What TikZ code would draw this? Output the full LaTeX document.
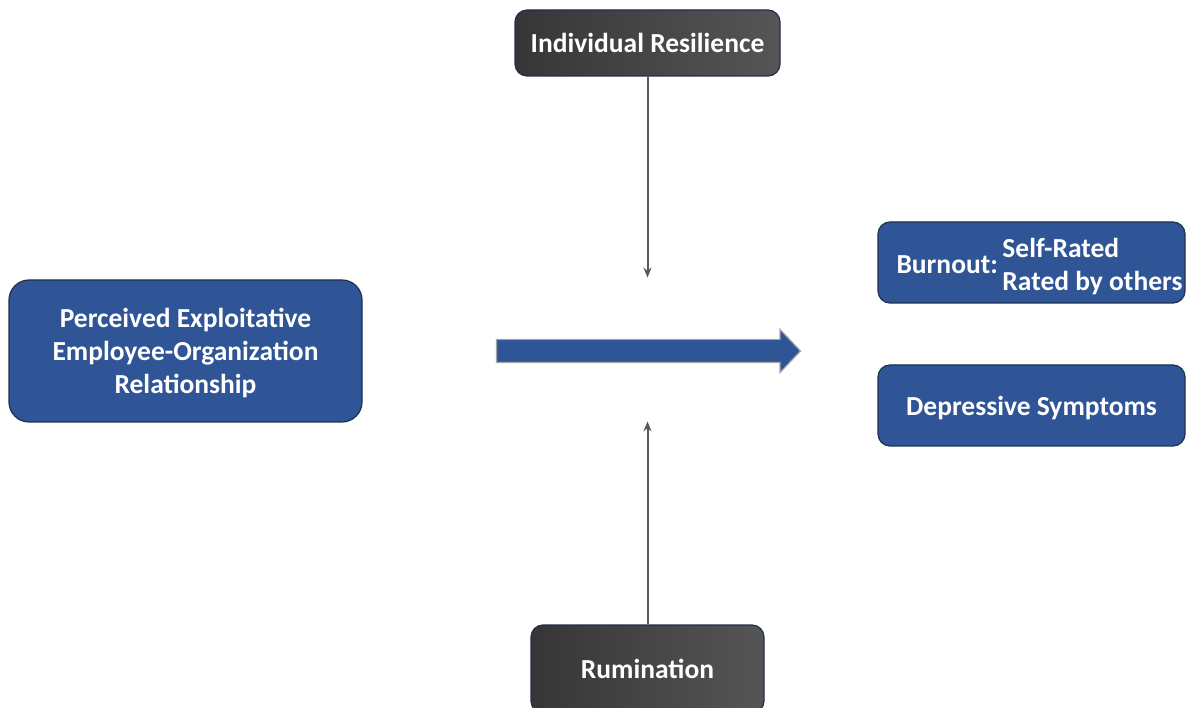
\documentclass[tikz,border=0pt]{standalone}
\usepackage{fontspec}
\setmainfont{Carlito}
\usetikzlibrary{shapes.arrows,arrows.meta,positioning}
\definecolor{mainblue}{HTML}{2F5597}
\definecolor{navy}{HTML}{1F2F4F}
\definecolor{darkbox}{HTML}{363636}
\definecolor{lightbox}{HTML}{555555}
\definecolor{linegray}{HTML}{595959}
\definecolor{rimgray}{HTML}{A6A6A6}
\tikzset{
  arr/.style={-{Stealth[length=10pt,width=8pt]},line width=2pt,draw=linegray},
  box/.style={rectangle,rounded corners=12pt,draw=navy,line width=1.2pt,
    text=white,font=\fontsize{27.5}{33}\selectfont\bfseries,align=center,inner sep=0pt},
  bluebox/.style={box,fill=mainblue},
  greybox/.style={box,left color=darkbox,right color=lightbox},
  bigarrow/.style={single arrow,fill=mainblue,draw=rimgray,line width=1.2pt,
    single arrow head extend=10pt,single arrow tip angle=93,inner xsep=0pt,inner ysep=11pt},
}

\begin{document}
\begin{tikzpicture}[x=1pt,y=-1pt]
\useasboundingbox (0,0) rectangle (1189,708);

\node[greybox,minimum width=265pt,minimum height=66pt] (resil) at (647.5,43) {Individual Resilience};
\node[greybox,minimum width=233pt,minimum height=88pt] (rumin) at (647.5,669) {Rumination};
\node[bluebox,rounded corners=20pt,minimum width=353pt,minimum height=142pt,text depth=0pt] (exploit) at (185.5,351)
  {Perceived Exploitative\\Employee-Organization\\Relationship};
\node[bluebox,minimum width=307pt,minimum height=81pt,text height=40pt,text depth=17pt] (burnout) at (1031.5,262.5)
  {\hspace*{16pt}Burnout:\,\begin{tabular}{@{}l@{}}Self-Rated\\Rated by others\end{tabular}};
\node[bluebox,minimum width=307pt,minimum height=81pt,text depth=0pt] (depress) at (1031.5,405.5) {Depressive Symptoms};

% main effect
\node[bigarrow,minimum height=304pt,minimum width=42pt] (effect) at (643,351) {};

% moderators
\coordinate[below=201pt of resil] (restip);
\coordinate[above=203pt of rumin] (rumtip);
\draw[arr] (resil) -- (restip);
\draw[arr] (rumin) -- (rumtip);
\end{tikzpicture}
\end{document}
